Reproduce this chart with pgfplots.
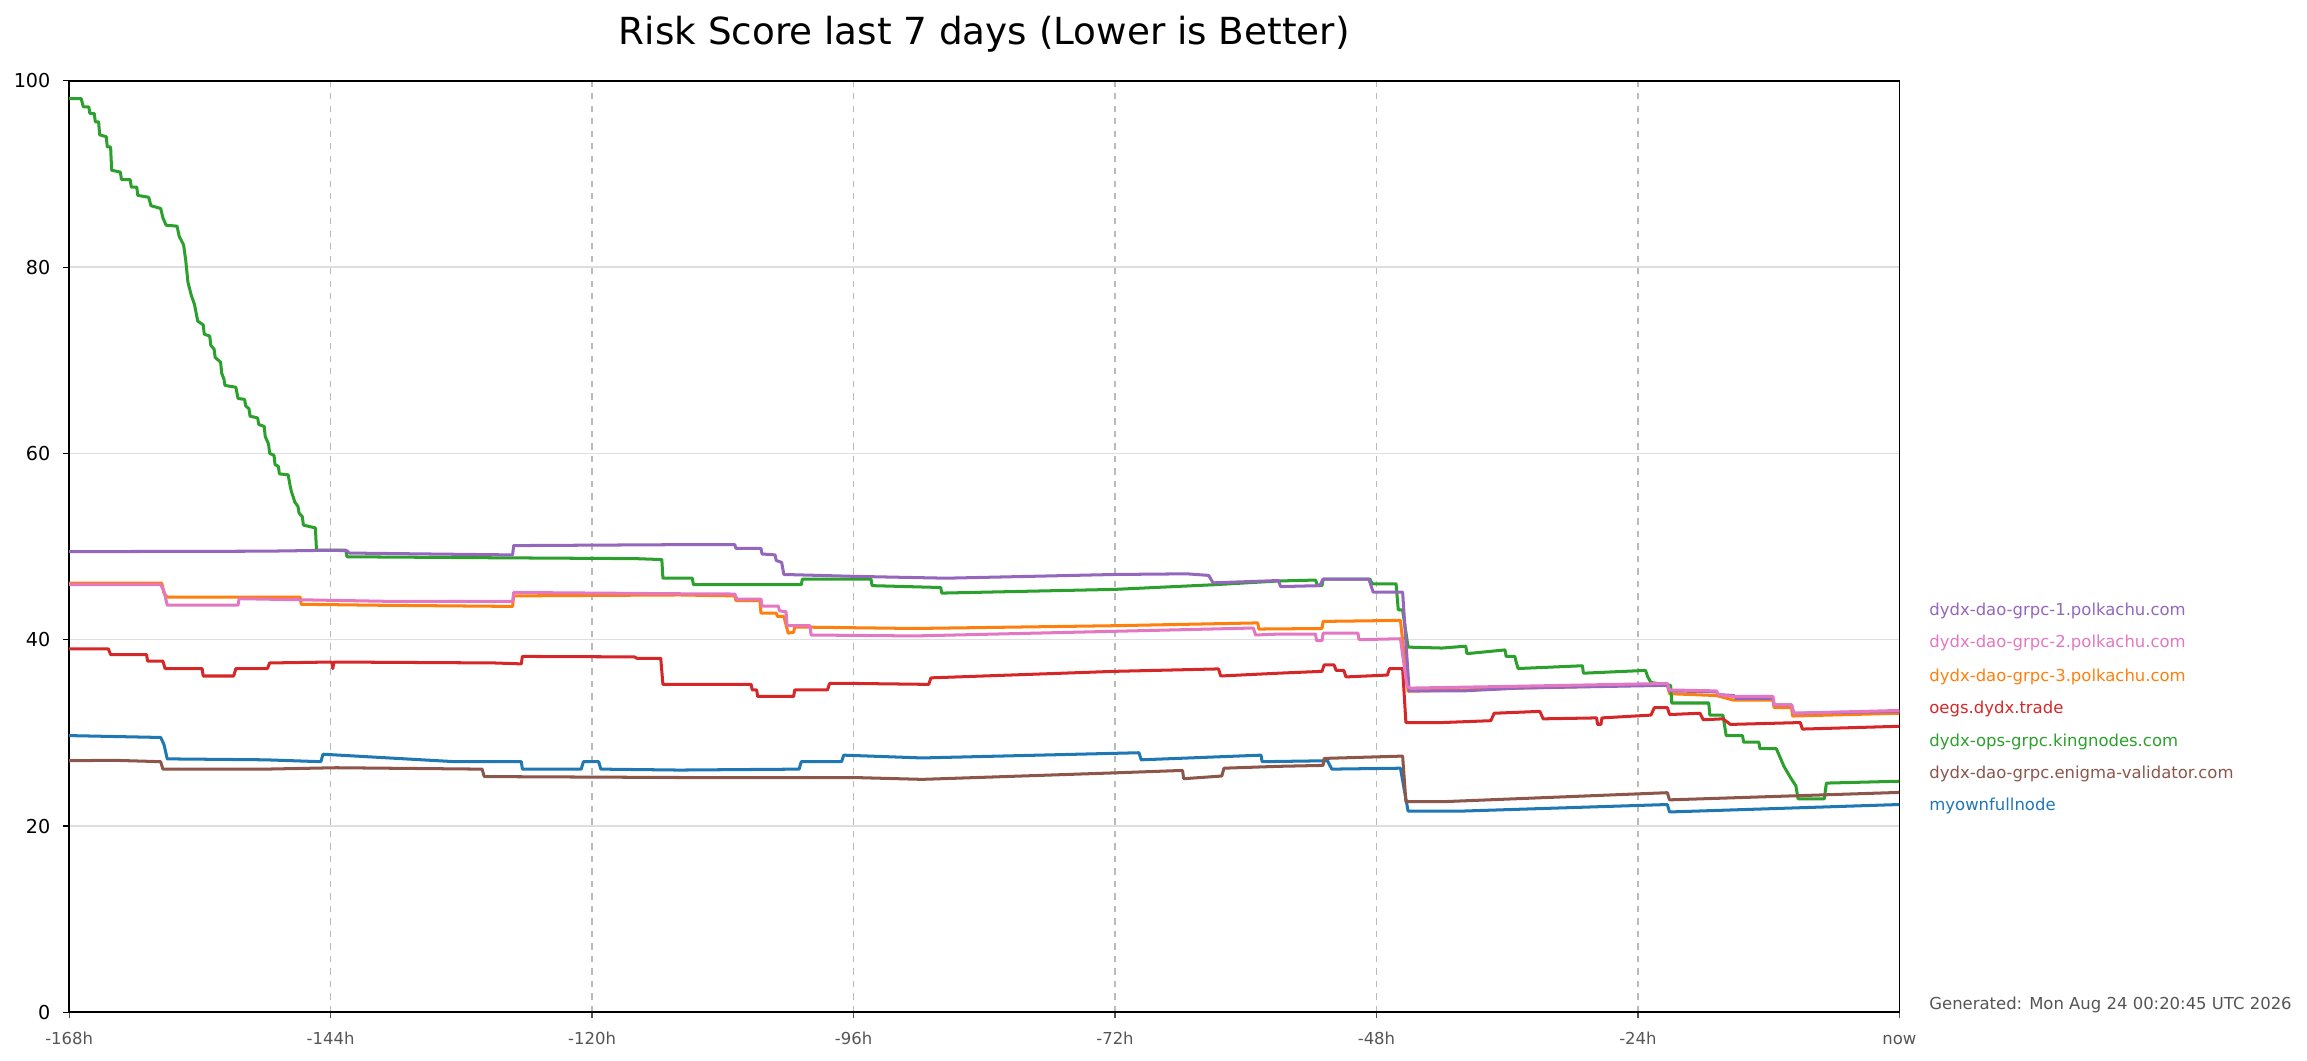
\documentclass[border=0pt]{standalone}
\usepackage{fontspec}
\setmainfont{DejaVu Sans}
\usepackage{pgfplots}
\pgfplotsset{compat=1.18}
\definecolor{tblue}{HTML}{1F77B4}
\definecolor{torange}{HTML}{FF7F0E}
\definecolor{tgreen}{HTML}{2CA02C}
\definecolor{tred}{HTML}{D62728}
\definecolor{tpurple}{HTML}{9467BD}
\definecolor{tbrown}{HTML}{8C564B}
\definecolor{tpink}{HTML}{E377C2}
\definecolor{ticklab}{HTML}{555555}
\begin{document}
\begin{tikzpicture}[x=1pt,y=1pt]
\path[use as bounding box] (0,0) rectangle (1107,509);
\begin{axis}[
  at={(33.2pt,23.3pt)}, anchor=south west,
  width=878.2pt, height=446.9pt, scale only axis,
  xmin=-168, xmax=0, ymin=0, ymax=100,
  xtick={-168,-144,-120,-96,-72,-48,-24,0},
  xticklabels={-168h,-144h,-120h,-96h,-72h,-48h,-24h,now},
  ytick={0,20,40,60,80,100},
  xmajorgrids, ymajorgrids,
  x grid style={dashed, color=black!27, line width=0.65pt},
  y grid style={solid, color=black!13, line width=0.7pt},
  axis line style={black, line width=0.8pt},
  tick align=outside, major tick length=3pt,
  xtick pos=left, ytick pos=left,
  x tick style={ticklab, line width=0.6pt},
  y tick style={black, line width=0.6pt},
  /pgf/number format/assume math mode=true,
  typeset ticklabels with strut,
  yticklabel style={font=\fontsize{9.2}{11}\selectfont, black, xshift=-2.5pt, yshift=-1.2pt},
  xticklabel style={font=\fontsize{7.9}{9}\selectfont, ticklab, yshift=-2.5pt},
  every axis plot/.append style={line width=1.45pt, line join=round},
  clip=true,
]
% blue: myownfullnode
\addplot[tblue] coordinates {
(-168,29.7) (-159.6,29.5) (-159.3,28.75) (-159.0,27.2) (-150,27.1) (-144.9,26.9) (-144.7,27.7) (-132.6,26.9) (-126.5,26.9) (-126.4,26.1) (-121.0,26.1) (-120.8,26.9) (-119.4,26.9) (-119.2,26.1) (-112,26.0) (-101.0,26.1) (-100.8,26.9) (-97.1,26.9) (-96.9,27.6) (-89.7,27.3) (-69.8,27.86) (-69.6,27.1) (-58.6,27.6) (-58.5,26.9) (-52.5,27.0) (-52.1,26.1) (-45.8,26.2) (-45.1,21.6) (-40,21.6) (-21.3,22.3) (-21.1,21.5) (0,22.3)
};
% orange: dydx-dao-grpc-3
\addplot[torange] coordinates {
(-168,46.07) (-159.5,46.07) (-159.3,45.0) (-159.0,44.57) (-146.8,44.57) (-146.7,43.8) (-140,43.7) (-127.3,43.57) (-127.2,44.7) (-112,44.8) (-106.9,44.7) (-106.8,44.2) (-104.6,44.2) (-104.5,42.86) (-103.1,42.86) (-103.0,42.5) (-102.4,42.5) (-102.0,40.7) (-101.5,40.8) (-101.4,41.36) (-90.4,41.2) (-72,41.5) (-58.9,41.8) (-58.8,41.14) (-53.0,41.2) (-52.9,41.96) (-45.8,42.07) (-45.1,34.46) (-40,34.6) (-35,34.8) (-21.3,35.18) (-21.1,34.2) (-16.8,34.0) (-15.2,33.5) (-11.6,33.5) (-11.5,32.7) (-9.9,32.7) (-9.8,31.8) (0,32.1)
};
% green: kingnodes
\addplot[tgreen] coordinates {
(-168,98.1) (-166.9,98.1) (-166.7,97.2) (-166.2,97.2) (-166.1,96.5) (-165.7,96.5) (-165.6,95.6) (-165.3,95.6) (-165.2,94.2) (-164.6,94.0) (-164.5,92.9) (-164.2,92.9) (-164.1,90.4) (-163.3,90.2) (-163.2,89.4) (-162.4,89.4) (-162.3,88.6) (-161.8,88.6) (-161.7,87.7) (-160.7,87.5) (-160.5,86.6) (-159.6,86.3) (-159.4,85.3) (-159.1,84.5) (-158.1,84.4) (-157.9,83.3) (-157.5,82.4) (-157.3,80.7) (-157.1,78.4) (-156.8,77.0) (-156.5,76.0) (-156.2,74.2) (-155.7,73.8) (-155.6,72.8) (-155.1,72.6) (-155.0,71.6) (-154.7,71.2) (-154.6,70.3) (-154.1,69.8) (-154.0,68.6) (-153.8,68.0) (-153.7,67.3) (-152.7,67.1) (-152.5,65.9) (-151.9,65.8) (-151.8,65.1) (-151.5,64.8) (-151.4,64.0) (-150.7,63.8) (-150.6,63.1) (-150.1,62.9) (-150.0,61.8) (-149.7,61.0) (-149.6,60.0) (-149.2,59.8) (-149.1,58.8) (-148.8,58.6) (-148.7,57.8) (-147.9,57.7) (-147.7,56.4) (-147.6,55.9) (-147.4,55.2) (-147.3,54.8) (-147.0,54.3) (-146.9,53.6) (-146.6,53.2) (-146.5,52.3) (-145.4,52.0) (-145.3,49.6) (-142.6,49.6) (-142.5,48.9) (-130,48.8) (-116,48.7) (-113.6,48.6) (-113.5,46.6) (-110.8,46.6) (-110.7,45.9) (-100.8,45.9) (-100.7,46.5) (-94.4,46.5) (-94.3,45.8) (-88.0,45.6) (-87.9,45.0) (-80,45.2) (-72,45.4) (-62.9,45.9) (-57,46.3) (-53.6,46.4) (-53.4,45.8) (-53.0,45.8) (-52.9,46.5) (-48.6,46.5) (-48.4,46.0) (-46.2,46.0) (-46.0,43.2) (-45.6,43.2) (-45.1,39.2) (-42,39.1) (-39.8,39.3) (-39.7,38.5) (-36.2,38.9) (-36.1,38.2) (-35.3,38.2) (-35.2,37.7) (-35.0,36.9) (-29.1,37.2) (-29.0,36.4) (-23.3,36.7) (-23.1,36.0) (-22.8,35.4) (-21.0,35.1) (-20.9,33.2) (-17.5,33.2) (-17.4,31.9) (-16.2,31.9) (-15.9,29.7) (-14.4,29.7) (-14.3,29.0) (-12.9,29.0) (-12.8,28.3) (-11.3,28.3) (-11.0,27.5) (-10.6,26.4) (-10.0,25.2) (-9.5,24.3) (-9.3,22.9) (-6.9,22.9) (-6.7,24.6) (0,24.8)
};
% red: oegs.dydx.trade
\addplot[tred] coordinates {
(-168,39.0) (-164.4,39.0) (-164.2,38.4) (-160.9,38.4) (-160.8,37.7) (-159.4,37.7) (-159.2,36.9) (-155.8,36.9) (-155.7,36.1) (-152.9,36.1) (-152.7,36.9) (-149.8,36.9) (-149.6,37.5) (-143.9,37.6) (-143.8,36.9) (-143.7,37.6) (-129,37.5) (-126.5,37.4) (-126.4,38.2) (-116.1,38.15) (-115.9,38.0) (-113.7,38.0) (-113.5,35.2) (-105.4,35.2) (-105.3,34.6) (-104.9,34.6) (-104.8,33.9) (-101.5,33.9) (-101.4,34.6) (-98.4,34.6) (-98.2,35.3) (-96,35.3) (-89.1,35.2) (-88.9,35.9) (-72,36.6) (-62.5,36.86) (-62.3,36.1) (-57,36.4) (-53,36.6) (-52.8,37.3) (-51.9,37.3) (-51.7,36.7) (-51.0,36.7) (-50.8,36.0) (-47.0,36.2) (-46.8,36.9) (-45.6,36.9) (-45.3,31.1) (-42,31.1) (-37.5,31.3) (-37.2,32.1) (-33.0,32.3) (-32.7,31.5) (-27.8,31.6) (-27.7,30.9) (-27.4,30.9) (-27.3,31.6) (-22.8,31.9) (-22.5,32.7) (-21.3,32.7) (-21.1,31.96) (-18.3,32.1) (-18.0,31.4) (-16.2,31.5) (-15.5,30.9) (-9.1,31.1) (-8.9,30.4) (0,30.7)
};
% purple: dydx-dao-grpc-1
\addplot[tpurple] coordinates {
(-168,49.45) (-150,49.5) (-144,49.6) (-142.5,49.55) (-142.3,49.3) (-135,49.2) (-127.3,49.1) (-127.2,50.1) (-112.2,50.2) (-106.9,50.2) (-106.8,49.8) (-104.5,49.8) (-104.4,49.2) (-103.2,49.1) (-103.1,48.5) (-102.6,48.3) (-102.4,47.0) (-96,46.8) (-87.5,46.6) (-72,47.0) (-65.4,47.07) (-63.4,46.9) (-63.0,46.1) (-57,46.35) (-56.8,45.7) (-53.2,45.8) (-52.9,46.5) (-48.7,46.5) (-48.3,45.1) (-45.6,45.1) (-45.0,34.5) (-40,34.5) (-35,34.8) (-21.3,35.1) (-21.1,34.5) (-16.8,34.4) (-16.6,34.1) (-15.2,34.0) (-15.0,33.7) (-11.6,33.7) (-11.5,33.0) (-9.9,33.0) (-9.7,32.1) (0,32.3)
};
% brown: enigma-validator
\addplot[tbrown] coordinates {
(-168,27.0) (-164,27.05) (-159.6,26.9) (-159.4,26.1) (-150,26.1) (-143.5,26.25) (-130.1,26.1) (-129.9,25.3) (-112,25.2) (-96,25.2) (-89.7,25.0) (-72,25.7) (-65.8,25.96) (-65.7,25.07) (-62.2,25.36) (-62.0,26.2) (-57,26.4) (-52.9,26.5) (-52.8,27.25) (-45.6,27.5) (-45.3,22.6) (-42,22.6) (-21.3,23.57) (-21.1,22.8) (0,23.6)
};
% pink: dydx-dao-grpc-2
\addplot[tpink] coordinates {
(-168,45.9) (-159.6,45.9) (-159.3,45.2) (-159.0,43.7) (-152.5,43.7) (-152.4,44.4) (-138,44.1) (-127.3,44.1) (-127.2,45.07) (-112,44.93) (-106.9,44.9) (-106.7,44.36) (-104.5,44.36) (-104.4,43.6) (-102.9,43.6) (-102.8,43.1) (-102.2,43.0) (-102.1,41.5) (-100.0,41.5) (-99.9,40.5) (-90.4,40.4) (-72,40.9) (-59.3,41.25) (-59.1,40.5) (-57,40.6) (-53.6,40.6) (-53.5,39.9) (-53.0,39.9) (-52.9,40.7) (-49.7,40.7) (-49.6,40.0) (-45.8,40.1) (-45.2,35.0) (-44.9,34.8) (-35,35.0) (-21.3,35.3) (-21.1,34.6) (-16.8,34.5) (-16.6,34.1) (-15.2,33.9) (-11.6,33.9) (-11.5,33.0) (-9.9,33.0) (-9.7,32.1) (0,32.4)
};
\end{axis}
\node[font=\fontsize{17.9}{21}\selectfont] at (472.3,492.8) {Risk Score last 7 days (Lower is Better)};
\begin{scope}[every node/.style={anchor=west, inner sep=0pt, font=\fontsize{7.9}{9.5}\selectfont}]
\node[text=tpurple] at (925.6,216.0) {dydx-dao-grpc-1.polkachu.com};
\node[text=tpink]   at (925.6,200.5) {dydx-dao-grpc-2.polkachu.com};
\node[text=torange] at (925.6,184.3) {dydx-dao-grpc-3.polkachu.com};
\node[text=tred]    at (925.6,168.7) {oegs.dydx.trade};
\node[text=tgreen]  at (925.6,153.2) {dydx-ops-grpc.kingnodes.com};
\node[text=tbrown]  at (925.6,137.7) {dydx-dao-grpc.enigma-validator.com};
\node[text=tblue]   at (925.6,122.1) {myownfullnode};
\node[text=ticklab] at (925.6,26.8) {Generated: Mon Aug 24 00:20:45 UTC 2026};
\end{scope}
\end{tikzpicture}
\end{document}
